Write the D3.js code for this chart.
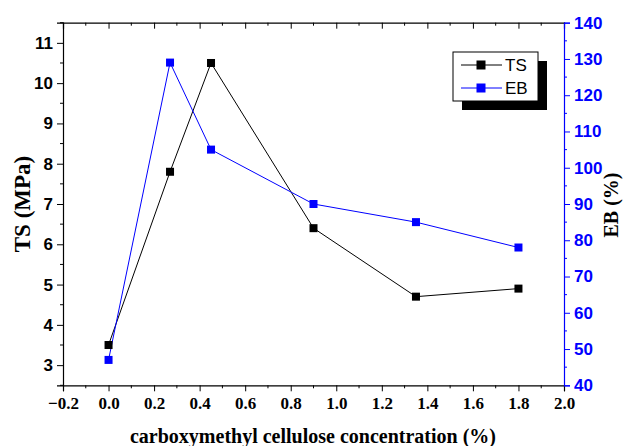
<!DOCTYPE html>
<html><head><meta charset="utf-8">
<script src="https://cdn.jsdelivr.net/npm/d3@7"></script>
<style>body{margin:0;background:#fff;} svg{display:block;}</style>
</head><body>
<svg id="c" width="638" height="446"></svg>
<script>
const concentration = [0.0, 0.27, 0.45, 0.9, 1.35, 1.8];
const tsValues = [3.5, 7.8, 10.5, 6.4, 4.7, 4.9];
const ebValues = [47, 129, 105, 90, 85, 78];
const xTicks = [-0.2, 0.0, 0.2, 0.4, 0.6, 0.8, 1.0, 1.2, 1.4, 1.6, 1.8, 2.0];
const tsTicks = [3, 4, 5, 6, 7, 8, 9, 10, 11];
const ebTicks = [40, 50, 60, 70, 80, 90, 100, 110, 120, 130, 140];
const seriesNames = ["TS", "EB"];

const L = 63, R = 564, T = 22.7, B = 385.3;
const svg = d3.select("#c");
const x = d3.scaleLinear().domain([-0.2, 2.0]).range([L, R]);
const yL = d3.scaleLinear().domain([2.5, 11.5]).range([B, T]);
const yR = d3.scaleLinear().domain([40, 140]).range([B, T]);

const serif = "'Liberation Serif','Times New Roman',serif";
const sans = "'Liberation Sans',Arial,sans-serif";

// bottom axis
const gx = svg.append("g").attr("transform", `translate(0,${B})`)
  .call(d3.axisBottom(x).tickValues(xTicks).tickFormat(d3.format(".1f")).tickSize(6).tickPadding(6));
gx.selectAll("text").attr("font-family", serif).attr("font-weight", "bold").attr("font-size", 17).attr("fill", "#000");
gx.append("g").selectAll("line").data(d3.range(-0.1, 2.0, 0.2)).join("line")
  .attr("x1", d => x(d)).attr("x2", d => x(d)).attr("y1", 0).attr("y2", 3).attr("stroke", "#000");

// top axis (ticks inward)
const gt = svg.append("g").attr("transform", `translate(0,${T})`)
  .call(d3.axisBottom(x).tickValues(xTicks).tickFormat("").tickSize(6));
gt.append("g").selectAll("line").data(d3.range(-0.1, 2.0, 0.2)).join("line")
  .attr("x1", d => x(d)).attr("x2", d => x(d)).attr("y1", 0).attr("y2", 3).attr("stroke", "#000");

// left axis
const gl = svg.append("g").attr("transform", `translate(${L},0)`)
  .call(d3.axisLeft(yL).tickValues(tsTicks).tickFormat(d3.format("d")).tickSize(6).tickPadding(4));
gl.selectAll("text").attr("font-family", sans).attr("font-weight", "bold").attr("font-size", 17).attr("fill", "#000");
gl.append("g").selectAll("line").data(d3.range(2.5, 11.6, 1)).join("line")
  .attr("y1", d => yL(d)).attr("y2", d => yL(d)).attr("x1", 0).attr("x2", -3).attr("stroke", "#000");

// right axis
const gr = svg.append("g").attr("transform", `translate(${R},0)`)
  .call(d3.axisRight(yR).tickValues(ebTicks).tickFormat(d3.format("d")).tickSize(6).tickPadding(4));
gr.selectAll("path, line").attr("stroke", "#0000ff");
gr.selectAll("text").attr("font-family", sans).attr("font-weight", "bold").attr("font-size", 17).attr("fill", "#0000ff");
gr.append("g").selectAll("line").data(d3.range(45, 140, 10)).join("line")
  .attr("y1", d => yR(d)).attr("y2", d => yR(d)).attr("x1", 0).attr("x2", 3).attr("stroke", "#0000ff");
svg.selectAll(".domain").attr("stroke-width", 1.2);

// axis titles
svg.append("text").attr("transform", `translate(30,204) rotate(-90)`).attr("text-anchor", "middle")
  .attr("font-family", serif).attr("font-weight", "bold").attr("font-size", 23).text("TS (MPa)");
svg.append("text").attr("transform", `translate(618,205) rotate(-90)`).attr("text-anchor", "middle")
  .attr("font-family", serif).attr("font-weight", "bold").attr("font-size", 20).text("EB (%)");
svg.append("text").attr("x", 313).attr("y", 443).attr("text-anchor", "middle")
  .attr("font-family", serif).attr("font-weight", "bold").attr("font-size", 20).text("carboxymethyl cellulose concentration (%)");

// series
const tsData = concentration.map((c, i) => [c, tsValues[i]]);
const ebData = concentration.map((c, i) => [c, ebValues[i]]);
svg.append("path").datum(tsData).attr("fill", "none").attr("stroke", "#000").attr("stroke-width", 1)
  .attr("d", d3.line().x(d => x(d[0])).y(d => yL(d[1])));
svg.append("path").datum(ebData).attr("fill", "none").attr("stroke", "#0000ff").attr("stroke-width", 1)
  .attr("d", d3.line().x(d => x(d[0])).y(d => yR(d[1])));
const ms = 8;
svg.append("g").selectAll("rect").data(tsData).join("rect")
  .attr("x", d => x(d[0]) - ms/2).attr("y", d => yL(d[1]) - ms/2).attr("width", ms).attr("height", ms).attr("fill", "#000");
svg.append("g").selectAll("rect").data(ebData).join("rect")
  .attr("x", d => x(d[0]) - ms/2).attr("y", d => yR(d[1]) - ms/2).attr("width", ms).attr("height", ms).attr("fill", "#0000ff");

// legend
const lg = svg.append("g");
lg.append("rect").attr("x", 462).attr("y", 61).attr("width", 85).attr("height", 49).attr("fill", "#000");
lg.append("rect").attr("x", 453).attr("y", 52).attr("width", 85).attr("height", 49).attr("fill", "#fff").attr("stroke", "#000").attr("stroke-width", 1);
const colors = ["#000", "#0000ff"];
seriesNames.forEach((n, i) => {
  const yy = 65 + i * 23;
  lg.append("line").attr("x1", 461).attr("x2", 502).attr("y1", yy).attr("y2", yy).attr("stroke", colors[i]);
  lg.append("rect").attr("x", 481 - ms/2 - 0.5).attr("y", yy - ms/2 - 0.5).attr("width", ms + 1).attr("height", ms + 1).attr("fill", colors[i]);
  lg.append("text").attr("x", 505).attr("y", yy + 6).attr("font-family", sans).attr("font-size", 17).text(n);
});
</script>
</body></html>
